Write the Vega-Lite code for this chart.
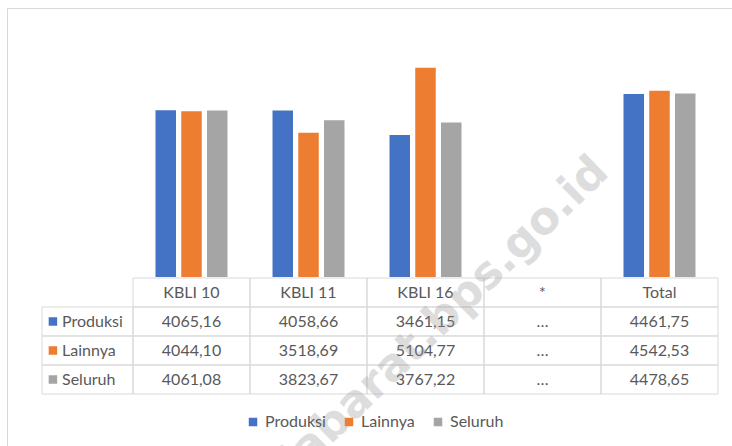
{
  "$schema": "https://vega.github.io/schema/vega-lite/v6.json",
  "width": 725,
  "height": 438,
  "autosize": {"type": "none"},
  "padding": {"left": 7, "top": 8, "right": 0, "bottom": 0},
  "background": "white",
  "config": {
    "view": {"stroke": "#d9d9d9", "strokeWidth": 1},
    "font": "Lato"
  },
  "datasets": {
    "vals": [
      {"kategori": "KBLI 10", "seri": "Produksi", "nilai": 4065.16, "teks": "4065,16"},
      {"kategori": "KBLI 10", "seri": "Lainnya", "nilai": 4044.10, "teks": "4044,10"},
      {"kategori": "KBLI 10", "seri": "Seluruh", "nilai": 4061.08, "teks": "4061,08"},
      {"kategori": "KBLI 11", "seri": "Produksi", "nilai": 4058.66, "teks": "4058,66"},
      {"kategori": "KBLI 11", "seri": "Lainnya", "nilai": 3518.69, "teks": "3518,69"},
      {"kategori": "KBLI 11", "seri": "Seluruh", "nilai": 3823.67, "teks": "3823,67"},
      {"kategori": "KBLI 16", "seri": "Produksi", "nilai": 3461.15, "teks": "3461,15"},
      {"kategori": "KBLI 16", "seri": "Lainnya", "nilai": 5104.77, "teks": "5104,77"},
      {"kategori": "KBLI 16", "seri": "Seluruh", "nilai": 3767.22, "teks": "3767,22"},
      {"kategori": "*", "seri": "Produksi", "nilai": null, "teks": "…"},
      {"kategori": "*", "seri": "Lainnya", "nilai": null, "teks": "…"},
      {"kategori": "*", "seri": "Seluruh", "nilai": null, "teks": "…"},
      {"kategori": "Total", "seri": "Produksi", "nilai": 4461.75, "teks": "4461,75"},
      {"kategori": "Total", "seri": "Lainnya", "nilai": 4542.53, "teks": "4542,53"},
      {"kategori": "Total", "seri": "Seluruh", "nilai": 4478.65, "teks": "4478,65"}
    ]
  },
  "data": {"name": "vals"},
  "layer": [
    {
      "transform": [{"filter": "datum.nilai != null"}],
      "mark": {"type": "bar"},
      "encoding": {
        "x": {"field": "kategori", "type": "nominal", "axis": null,
              "scale": {"domain": ["KBLI 10", "KBLI 11", "KBLI 16", "*", "Total"], "range": [126, 711], "paddingInner": 0, "paddingOuter": 0}},
        "xOffset": {"field": "seri", "type": "nominal",
              "scale": {"domain": ["Produksi", "Lainnya", "Seluruh"], "paddingInner": 0.204, "paddingOuter": 0.874}},
        "y": {"field": "nilai", "type": "quantitative", "axis": null,
              "scale": {"domain": [0, 6000], "range": [269, 23], "nice": false, "zero": true}},
        "color": {"field": "seri", "type": "nominal",
              "scale": {"domain": ["Produksi", "Lainnya", "Seluruh"], "range": ["#4472C4", "#ED7D31", "#A5A5A5"]},
              "legend": {"orient": "none", "legendX": 238, "legendY": 406, "direction": "horizontal", "title": null,
                         "symbolType": "square", "symbolSize": 72, "symbolStrokeWidth": 0,
                         "labelFont": "Lato", "labelFontSize": 16, "labelColor": "#595959",
                         "columnPadding": 15, "labelOffset": 4}}
      }
    },
    {
      "layer": [
        {
          "transform": [{"aggregate": [{"op": "count", "as": "n"}], "groupby": ["kategori"]}],
          "mark": {"type": "rect", "filled": false, "stroke": "#d9d9d9", "strokeWidth": 1},
          "encoding": {
            "x": {"field": "kategori", "type": "nominal", "axis": null,
                  "scale": {"domain": ["KBLI 10", "KBLI 11", "KBLI 16", "*", "Total"], "range": [126, 711], "paddingInner": 0, "paddingOuter": 0}},
            "y": {"datum": "hdr", "type": "nominal", "axis": null,
                  "scale": {"domain": ["hdr", "Produksi", "Lainnya", "Seluruh"], "range": [270, 386], "paddingInner": 0, "paddingOuter": 0}}
          }
        },
        {
          "transform": [{"aggregate": [{"op": "count", "as": "n"}], "groupby": ["kategori"]}],
          "mark": {"type": "text", "font": "Lato", "fontSize": 16, "color": "#595959"},
          "encoding": {
            "x": {"field": "kategori", "type": "nominal", "axis": null},
            "y": {"datum": "hdr", "type": "nominal", "axis": null},
            "text": {"field": "kategori"}
          }
        },
        {
          "mark": {"type": "rect", "filled": false, "stroke": "#d9d9d9", "strokeWidth": 1},
          "encoding": {
            "x": {"field": "kategori", "type": "nominal", "axis": null},
            "y": {"field": "seri", "type": "nominal", "axis": null}
          }
        },
        {
          "mark": {"type": "text", "font": "Lato", "fontSize": 16, "color": "#595959"},
          "encoding": {
            "x": {"field": "kategori", "type": "nominal", "axis": null},
            "y": {"field": "seri", "type": "nominal", "axis": null},
            "text": {"field": "teks"}
          }
        },
        {
          "transform": [{"aggregate": [{"op": "count", "as": "n"}]}],
          "mark": {"type": "text", "font": "DejaVu Sans", "fontWeight": "bold", "fontSize": 45, "color": "#999999", "opacity": 0.32, "angle": 316, "align": "center", "baseline": "middle"},
          "encoding": {
            "x": {"datum": "KBLI 16", "type": "nominal", "bandPosition": 0.48, "axis": null},
            "y": {"datum": "Lainnya", "type": "nominal", "bandPosition": 0, "axis": null},
            "text": {"value": "sulabarat.bps.go.id"}
          }
        }
      ]
    },
    {
      "transform": [{"filter": "datum.kategori == 'KBLI 10'"}],
      "layer": [
        {
          "mark": {"type": "rect", "filled": false, "stroke": "#d9d9d9", "strokeWidth": 1},
          "encoding": {
            "x": {"datum": "lbl", "type": "nominal", "axis": null,
                  "scale": {"domain": ["lbl"], "range": [35, 126], "paddingInner": 0, "paddingOuter": 0}},
            "y": {"field": "seri", "type": "nominal", "axis": null,
                  "scale": {"domain": ["hdr", "Produksi", "Lainnya", "Seluruh"], "range": [270, 386], "paddingInner": 0, "paddingOuter": 0}}
          }
        },
        {
          "mark": {"type": "point", "shape": "square", "filled": true, "size": 72, "opacity": 1},
          "encoding": {
            "x": {"datum": "lbl", "type": "nominal", "bandPosition": 0.12, "axis": null},
            "y": {"field": "seri", "type": "nominal", "axis": null},
            "color": {"field": "seri", "type": "nominal"}
          }
        },
        {
          "mark": {"type": "text", "font": "Lato", "fontSize": 16, "color": "#595959", "align": "left"},
          "encoding": {
            "x": {"datum": "lbl", "type": "nominal", "bandPosition": 0.22, "axis": null},
            "y": {"field": "seri", "type": "nominal", "axis": null},
            "text": {"field": "seri"}
          }
        }
      ]
    }
  ],
  "resolve": {"scale": {"x": "independent", "y": "independent"}}
}
